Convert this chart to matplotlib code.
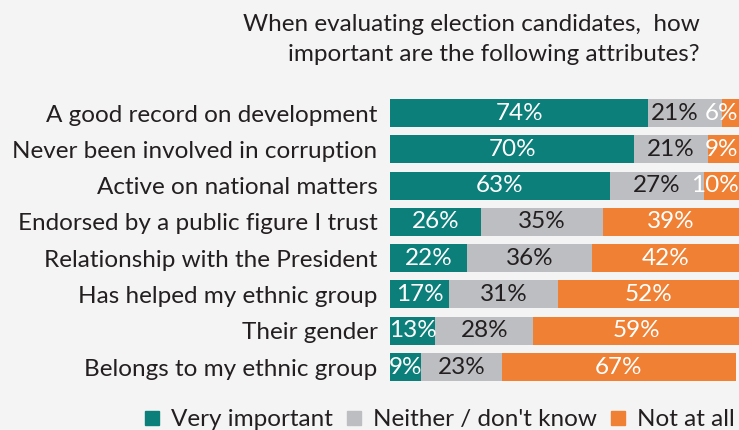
import numpy as np
import matplotlib.pyplot as plt
from matplotlib.lines import Line2D

categories = ["A good record on development",
              "Never been involved in corruption",
              "Active on national matters",
              "Endorsed by a public figure I trust",
              "Relationship with the President",
              "Has helped my ethnic group",
              "Their gender",
              "Belongs to my ethnic group"]
very = [74, 70, 63, 26, 22, 17, 13, 9]
neither = [21, 21, 27, 35, 36, 31, 28, 23]
notatall = [6, 9, 10, 39, 42, 52, 59, 67]
series_names = ["Very important", "Neither / don't know", "Not at all"]

teal = "#0d7f7b"
grey = "#bdbec1"
orange = "#ef8034"
bg = "#f4f4f4"
dark = "#231f20"

plt.rcParams['font.family'] = ['Lato', 'DejaVu Sans']

fig = plt.figure(figsize=(7.39, 4.30), dpi=100, facecolor=bg)
ax = fig.add_axes([0.5277, 0.1043, 0.4723, 0.675], facecolor=bg)

y = np.arange(len(categories))
h = 0.77
v = np.array(very)
n = np.array(neither)
o = np.array(notatall)
ax.barh(y, v, height=h, color=teal)
ax.barh(y, n, left=v, height=h, color=grey)
ax.barh(y, o, left=v + n, height=h, color=orange)

fs = 17.5
for i in range(len(categories)):
    ax.text(v[i] / 2, y[i], f"{v[i]}%", ha='center', va='center', color='white', fontsize=fs)
    gx = v[i] + n[i] / 2
    if o[i] < 8:
        gx -= 3  # make room for the small orange label
    ax.text(gx, y[i], f"{n[i]}%", ha='center', va='center', color=dark, fontsize=fs)
    if o[i] < 15:
        # small segment: label sits against the right edge
        ax.text(99.9, y[i], f"{o[i]}%", ha='right', va='center', color='white', fontsize=fs)
    else:
        ax.text(v[i] + n[i] + o[i] / 2, y[i], f"{o[i]}%", ha='center', va='center', color='white', fontsize=fs)

ax.set_xlim(0, 100)
ax.set_ylim(len(categories) - 0.5, -0.5)
ax.set_yticks(y)
ax.set_yticklabels(categories, fontsize=fs, color=dark)
ax.tick_params(axis='y', length=0, pad=9)
ax.set_xticks([])
for s in ax.spines.values():
    s.set_visible(False)

fig.text(0.947, 0.968, "When evaluating election candidates,  how\nimportant are the following attributes?",
         ha='right', va='top', fontsize=fs, color=dark, linespacing=1.55,
         multialignment='right')

handles = [Line2D([], [], marker='s', linestyle='none', markersize=10, color=c)
           for c in (teal, grey, orange)]
fig.legend(handles, series_names, loc='lower right', bbox_to_anchor=(1.024, -0.052), ncol=3,
           frameon=False, fontsize=fs, handletextpad=0.3, columnspacing=0.35,
           handlelength=1.0, labelcolor=dark)

fig.savefig("out.png", dpi=100, facecolor=bg)
